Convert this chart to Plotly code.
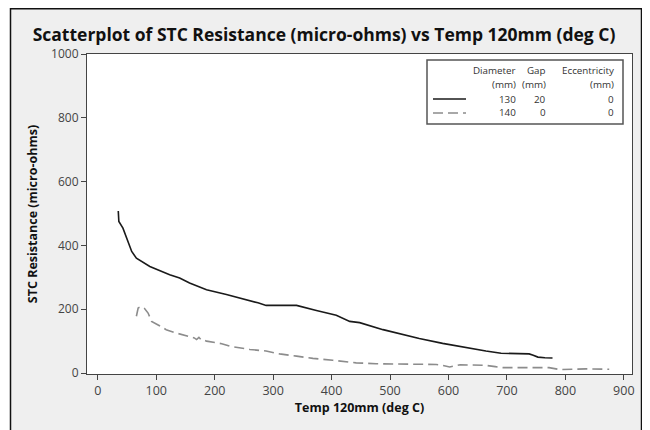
import plotly.graph_objects as go

# ---- data ----
solid_x = [35, 36, 43, 49, 58, 66, 89, 123, 140, 157, 186, 220, 248, 260, 274, 288, 340,
           374, 408, 431, 448, 488, 516, 530, 550, 590, 630, 664, 690, 738, 745, 753, 765, 778]
solid_y = [508, 475, 454, 423, 381, 360, 334, 308, 298, 282, 261, 246, 233, 227, 220, 212, 212,
           196, 181, 162, 158, 136, 124, 116, 108, 93, 79, 69, 62, 60, 56, 50, 48, 47]

dash_x = [66, 69, 74, 80, 86, 92, 104, 117, 135, 152, 165, 169, 173, 177, 180, 186, 197, 212,
          226, 243, 260, 288, 311, 340, 368, 402, 442, 476, 522, 579, 590, 602, 620, 636, 664,
          680, 693, 721, 772, 790, 835, 875]
dash_y = [178, 204, 208, 202, 188, 162, 150, 136, 125, 116, 110, 105, 112, 104, 105, 100, 97, 92,
          84, 78, 74, 69, 60, 53, 46, 40, 32, 29, 29, 27, 24, 19, 26, 25, 24,
          20, 17, 17, 17, 11, 13, 12]

x_ticks = [0, 100, 200, 300, 400, 500, 600, 700, 800, 900]
y_ticks = [0, 200, 400, 600, 800, 1000]

legend_diameter = ["130", "140"]
legend_gap = ["20", "0"]
legend_ecc = ["0", "0"]

# ---- layout geometry (page pixels; the page body adds an 8px offset) ----
OFF = 8
W, H = 650 - OFF, 430 - OFF
L, R, T, B = 87 - OFF, 632 - OFF, 54 - OFF, 374 - OFF
PW, PH = R - L, B - T


def px(x):
    return (x - OFF - L) / PW


def py(y):
    return (B - (y - OFF)) / PH


FONT = "Open Sans"

fig = go.Figure()
fig.add_trace(go.Scatter(x=solid_x, y=solid_y, mode="lines",
                         line=dict(color="#1a1a1a", width=1.6), showlegend=False))
fig.add_trace(go.Scatter(x=dash_x, y=dash_y, mode="lines",
                         line=dict(color="#8c8c8c", width=1.6, dash="10px,5px"),
                         showlegend=False))

shapes = []
# white strips outside the outer frame
shapes.append(dict(type="rect", xref="paper", yref="paper", x0=px(0), x1=px(10), y0=py(440), y1=py(0),
                   fillcolor="white", line=dict(width=0), layer="below"))
shapes.append(dict(type="rect", xref="paper", yref="paper", x0=px(641), x1=px(655), y0=py(440), y1=py(0),
                   fillcolor="white", line=dict(width=0), layer="below"))
# outer frame
shapes.append(dict(type="rect", xref="paper", yref="paper", x0=px(10.5), x1=px(641.5), y0=py(445), y1=py(8.7),
                   fillcolor="rgba(0,0,0,0)", line=dict(color="#111", width=1.5), layer="below"))
# legend box
shapes.append(dict(type="rect", xref="paper", yref="paper", x0=px(427), x1=px(623), y0=py(124), y1=py(60),
                   fillcolor="white", line=dict(color="#555", width=1.5), layer="above"))
shapes.append(dict(type="line", xref="paper", yref="paper", x0=px(433), x1=px(466), y0=py(99), y1=py(99),
                   line=dict(color="#1a1a1a", width=1.6)))
shapes.append(dict(type="line", xref="paper", yref="paper", x0=px(433), x1=px(466), y0=py(113), y1=py(113),
                   line=dict(color="#8c8c8c", width=1.6, dash="10px,5px")))

annotations = []


def text(x, y, s, size=10, anchor="right", color="#333"):
    annotations.append(dict(x=px(x), y=py(y), xref="paper", yref="paper", text=s, showarrow=False,
                            xanchor=anchor, yanchor="middle",
                            font=dict(family=FONT, size=size, color=color)))


text(518, 71, "Diameter", 9.8)
text(548, 71, "Gap", 9.8)
text(616, 71, "Eccentricity", 9.8)
text(518, 84, "(mm)", 9.8)
text(548, 84, "(mm)", 9.8)
text(616, 84, "(mm)", 9.8)
rows_y = [99, 113]
for i, yy in enumerate(rows_y):
    text(518, yy, legend_diameter[i], 9.8)
    text(548, yy, legend_gap[i], 9.8)
    text(616, yy, legend_ecc[i], 9.8)

fig.update_layout(
    width=W, height=H,
    margin=dict(l=L, r=W - R, t=T, b=H - B, autoexpand=False),
    paper_bgcolor="#efefef", plot_bgcolor="white",
    showlegend=False,
    title=dict(text="<b>Scatterplot of STC Resistance (micro-ohms) vs Temp 120mm (deg C)</b>",
               x=px(324), xanchor="center", xref="paper", y=1 - (35 - OFF) / H, yanchor="middle",
               font=dict(family=FONT, size=17.5, color="#111")),
    shapes=shapes, annotations=annotations,
    font=dict(family=FONT),
)
fig.update_xaxes(range=[-18.5, 914], tickvals=x_ticks, ticks="outside", ticklen=5, tickwidth=1,
                 tickcolor="#444", showline=True, linecolor="#444", linewidth=1.2, mirror=True,
                 showgrid=False, zeroline=False, automargin=False,
                 tickfont=dict(family=FONT, size=12.5, color="#444"),
                 title=dict(text="<b>Temp 120mm (deg C)</b>", standoff=5,
                            font=dict(family=FONT, size=12.5, color="#111")))
fig.update_yaxes(range=[-3, 1000], tickvals=y_ticks, ticks="outside", ticklen=5, tickwidth=1,
                 tickcolor="#444", showline=True, linecolor="#444", linewidth=1.2, mirror=True,
                 showgrid=False, zeroline=False, automargin=False,
                 tickfont=dict(family=FONT, size=12, color="#444"),
                 title=dict(text="<b>STC Resistance (micro-ohms)</b>", standoff=10,
                            font=dict(family=FONT, size=12.5, color="#111")))

fig.write_html("out.html")
